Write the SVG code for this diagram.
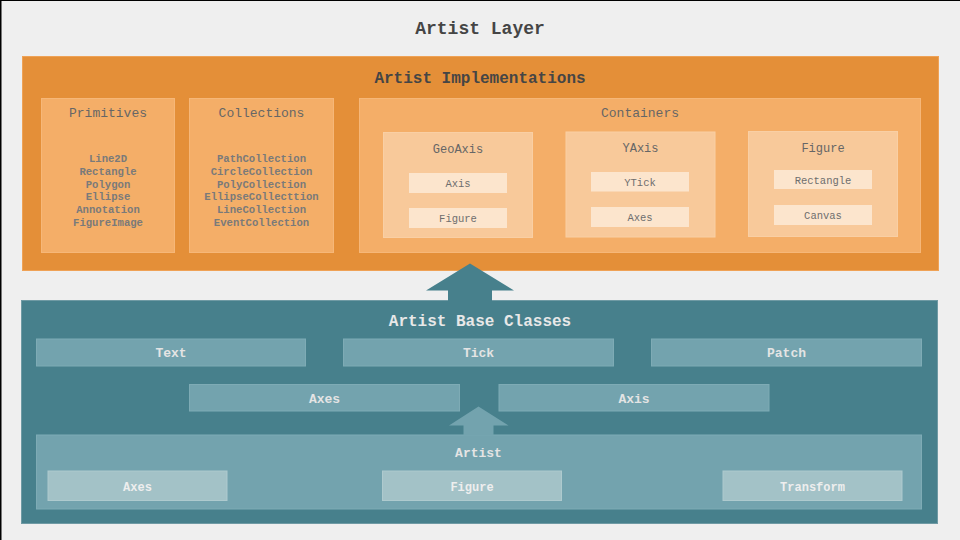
<svg xmlns="http://www.w3.org/2000/svg" width="960" height="540" viewBox="0 0 960 540">
  <style>
    text { font-family: "Liberation Mono", "Courier New", monospace; text-anchor: middle; }
    .title { font-size: 18px; font-weight: bold; fill: #454545; }
    .h-orange { font-size: 16px; font-weight: bold; fill: #454545; }
    .h-group { font-size: 13px; fill: #666666; }
    .list { font-size: 10.6px; font-weight: bold; fill: #7a7a7a; }
    .h-sub { font-size: 12px; fill: #666666; }
    .item { font-size: 10.5px; fill: #6e6e6e; }
    .h-teal { font-size: 16px; font-weight: bold; fill: #e8e8e8; }
    .teal-lbl { font-size: 13px; font-weight: bold; fill: #e4e4e4; }
    .teal-item { font-size: 12px; font-weight: bold; fill: #eeeeee; }
    .orange-outer { fill: #E48F38; stroke: #EFA256; stroke-width: 1; }
    .orange-mid { fill: #F4AE68; stroke: #F6B778; stroke-width: 1; }
    .orange-inner { fill: #F8C99A; stroke: #F9CFA4; stroke-width: 1; }
    .orange-leaf { fill: #FCE5CD; }
    .teal-outer { fill: #47808C; stroke: #6F9AA4; stroke-width: 1; }
    .teal-mid { fill: #73A3AE; stroke: #7EABB5; stroke-width: 1; }
    .teal-leaf { fill: #A3C2C7; stroke: #AECACE; stroke-width: 1; }
  </style>

  <!-- page -->
  <rect x="0" y="0" width="960" height="540" fill="#EFEFEF"/>
  <line x1="0" y1="0.5" x2="960" y2="0.5" stroke="#000" stroke-width="1"/>
  <line x1="0.75" y1="0" x2="0.75" y2="540" stroke="#000" stroke-width="1.5"/>

  <text class="title" x="480" y="34">Artist Layer</text>

  <!-- implementation layer -->
  <g id="artist-implementations">
    <rect class="orange-outer" x="22.5" y="56.5" width="916" height="214"/>
    <text class="h-orange" x="480" y="83">Artist Implementations</text>
  </g>

  <g id="primitives">
    <rect class="orange-mid" x="41.5" y="98.5" width="133" height="154"/>
    <text class="h-group" x="108" y="117">Primitives</text>
    <text class="list" x="108" y="162">Line2D</text>
    <text class="list" x="108" y="174.8">Rectangle</text>
    <text class="list" x="108" y="187.6">Polygon</text>
    <text class="list" x="108" y="200.4">Ellipse</text>
    <text class="list" x="108" y="213.2">Annotation</text>
    <text class="list" x="108" y="226">FigureImage</text>
  </g>

  <g id="collections">
    <rect class="orange-mid" x="189.5" y="98.5" width="144" height="154"/>
    <text class="h-group" x="261.5" y="117">Collections</text>
    <text class="list" x="261.5" y="162">PathCollection</text>
    <text class="list" x="261.5" y="174.8">CircleCollection</text>
    <text class="list" x="261.5" y="187.6">PolyCollection</text>
    <text class="list" x="261.5" y="200.4">EllipseCollecttion</text>
    <text class="list" x="261.5" y="213.2">LineCollection</text>
    <text class="list" x="261.5" y="226">EventCollection</text>
  </g>

  <g id="containers">
    <rect class="orange-mid" x="359.5" y="98.5" width="561" height="154"/>
    <text class="h-group" x="640" y="117">Containers</text>
  </g>

  <g id="geoaxis">
    <rect class="orange-inner" x="383.5" y="132.5" width="149" height="105"/>
    <text class="h-sub" x="458" y="152.5">GeoAxis</text>
    <rect class="orange-leaf" x="409" y="173" width="98" height="20"/>
    <text class="item" x="458" y="186.5">Axis</text>
    <rect class="orange-leaf" x="409" y="208" width="98" height="20"/>
    <text class="item" x="458" y="222">Figure</text>
  </g>

  <g id="yaxis">
    <rect class="orange-inner" x="566" y="132" width="149" height="105"/>
    <text class="h-sub" x="640.5" y="152">YAxis</text>
    <rect class="orange-leaf" x="591" y="172" width="98" height="19.5"/>
    <text class="item" x="640" y="185.5">YTick</text>
    <rect class="orange-leaf" x="591" y="207" width="98" height="20"/>
    <text class="item" x="640" y="221">Axes</text>
  </g>

  <g id="figure">
    <rect class="orange-inner" x="748.5" y="131.5" width="149" height="105"/>
    <text class="h-sub" x="823" y="152">Figure</text>
    <rect class="orange-leaf" x="774" y="170" width="98" height="19"/>
    <text class="item" x="823" y="183.5">Rectangle</text>
    <rect class="orange-leaf" x="774" y="205" width="98" height="20"/>
    <text class="item" x="823" y="219">Canvas</text>
  </g>

  <!-- base classes layer -->
  <g id="artist-base-classes">
    <rect class="teal-outer" x="21.5" y="300.5" width="916" height="223"/>
    <text class="h-teal" x="480" y="325.5">Artist Base Classes</text>
  </g>

  <g id="text">
    <rect class="teal-mid" x="36.5" y="339" width="269" height="27"/>
    <text class="teal-lbl" x="171" y="357">Text</text>
  </g>
  <g id="tick">
    <rect class="teal-mid" x="343.5" y="339" width="270" height="27"/>
    <text class="teal-lbl" x="478.5" y="357">Tick</text>
  </g>
  <g id="patch">
    <rect class="teal-mid" x="651.5" y="339" width="270" height="27"/>
    <text class="teal-lbl" x="786.5" y="357">Patch</text>
  </g>
  <g id="axes">
    <rect class="teal-mid" x="189.5" y="384.5" width="270" height="26.5"/>
    <text class="teal-lbl" x="324.5" y="402.5">Axes</text>
  </g>
  <g id="axis">
    <rect class="teal-mid" x="499" y="384.5" width="270" height="26.5"/>
    <text class="teal-lbl" x="634" y="402.5">Axis</text>
  </g>

  <g id="artist">
    <rect class="teal-mid" x="36.5" y="435" width="885" height="74"/>
    <text class="teal-lbl" x="478.5" y="456.5">Artist</text>
    <rect class="teal-leaf" x="48" y="471" width="179" height="29.5"/>
    <text class="teal-item" x="137.5" y="490.5">Axes</text>
    <rect class="teal-leaf" x="382.5" y="471" width="179" height="29.5"/>
    <text class="teal-item" x="472" y="490.5">Figure</text>
    <rect class="teal-leaf" x="723" y="471" width="179" height="29.5"/>
    <text class="teal-item" x="812.5" y="490.5">Transform</text>
  </g>

  <!-- connectors -->
  <g id="connectors">
    <polygon points="470,263.5 514,290.5 492,290.5 492,301 448,301 448,290.5 426,290.5" fill="#47808C"/>
    <polygon points="478.5,406.5 508.5,425.5 493.5,425.5 493.5,435.5 463.5,435.5 463.5,425.5 449,425.5" fill="#73A3AE"/>
  </g>
</svg>
